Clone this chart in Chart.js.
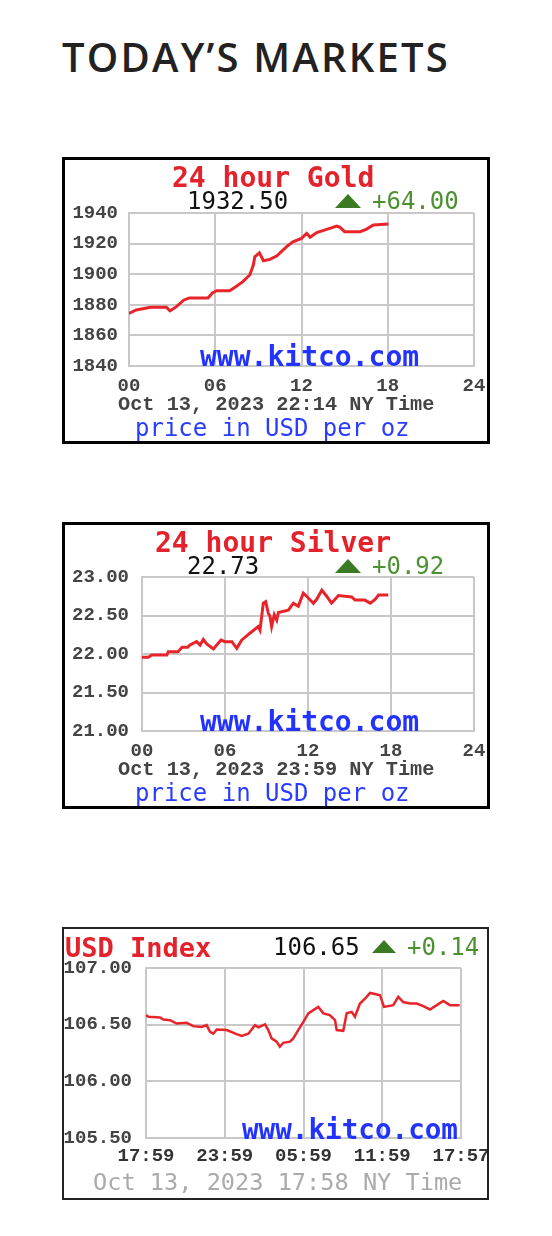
<!DOCTYPE html>
<html>
<head>
<meta charset="utf-8">
<script src="https://cdn.jsdelivr.net/npm/chart.js@4.4.0/dist/chart.umd.min.js"></script>
<style>
  body { margin: 0; background: #fff; width: 552px; height: 1236px; position: relative; overflow: hidden; }
  .t { position: absolute; white-space: pre; line-height: 1; transform: translateY(-50%); }
  .mono { font-family: "DejaVu Sans Mono", monospace; }
  .bmono { font-family: "Liberation Mono", monospace; font-weight: bold; }
  .box { position: absolute; box-sizing: border-box; background: #fff; }
  .tri { position: absolute; width: 0; height: 0; }
  canvas { position: absolute; }
  h1 { position: absolute; margin: 0; left: 62px; top: 57px; transform: translateY(-50%); line-height: 1;
       font-family: "Open Sans", sans-serif; font-weight: 600; font-size: 40px; letter-spacing: 2.2px; color: #222; }
</style>
</head>
<body>
<h1>TODAY’S MARKETS</h1>

<div class="box" style="left:62px;top:157px;width:428px;height:287px;border:3px solid #000"></div>
<canvas id="gold" width="422" height="281" style="left:65px;top:160px;width:422px;height:281px"></canvas>
<div class="t mono" style="left:172px;top:178px;font-size:28px;font-weight:bold;color:#e3222b">24 hour Gold</div>
<div class="t mono" style="left:187px;top:201px;font-size:24px;color:#111">1932.50</div>
<div class="tri" style="left:335px;top:194px;border-left:13.5px solid transparent;border-right:13.5px solid transparent;border-bottom:14px solid #3a7a22"></div>
<div class="t mono" style="left:372px;top:201px;font-size:24px;color:#4b9130">+64.00</div>
<div class="t mono" style="left:200px;top:357px;font-size:28px;font-weight:bold;color:#2233ff">www.kitco.com</div>
<div class="t bmono" style="left:118px;top:405px;font-size:20.3px;color:#444">Oct 13, 2023 22:14 NY Time</div>
<div class="t mono" style="left:135px;top:428px;font-size:24px;color:#2a3cff">price in USD per oz</div>

<div class="box" style="left:62px;top:522px;width:428px;height:287px;border:3px solid #000"></div>
<canvas id="silver" width="422" height="281" style="left:65px;top:525px;width:422px;height:281px"></canvas>
<div class="t mono" style="left:155px;top:543px;font-size:28px;font-weight:bold;color:#e3222b">24 hour Silver</div>
<div class="t mono" style="left:187px;top:566px;font-size:24px;color:#111">22.73</div>
<div class="tri" style="left:335px;top:559px;border-left:13.5px solid transparent;border-right:13.5px solid transparent;border-bottom:14px solid #3a7a22"></div>
<div class="t mono" style="left:372px;top:566px;font-size:24px;color:#4b9130">+0.92</div>
<div class="t mono" style="left:200px;top:722px;font-size:28px;font-weight:bold;color:#2233ff">www.kitco.com</div>
<div class="t bmono" style="left:118px;top:770px;font-size:20.3px;color:#444">Oct 13, 2023 23:59 NY Time</div>
<div class="t mono" style="left:135px;top:793px;font-size:24px;color:#2a3cff">price in USD per oz</div>

<div class="box" style="left:62px;top:927px;width:427px;height:273px;border:2px solid #222"></div>
<canvas id="usd" width="423" height="269" style="left:64px;top:929px;width:423px;height:269px"></canvas>
<div class="t mono" style="left:65px;top:947px;font-size:27px;font-weight:bold;color:#e3222b">USD Index</div>
<div class="t mono" style="left:273px;top:947px;font-size:24px;color:#111">106.65</div>
<div class="tri" style="left:372px;top:940px;border-left:12.5px solid transparent;border-right:12.5px solid transparent;border-bottom:13px solid #3a7a22"></div>
<div class="t mono" style="left:407px;top:947px;font-size:24px;color:#4b9130">+0.14</div>
<div class="t mono" style="left:242px;top:1130px;font-size:27.6px;font-weight:bold;color:#2233ff">www.kitco.com</div>
<div class="t mono" style="left:93px;top:1183px;font-size:23.6px;color:#aaa">Oct 13, 2023 17:58 NY Time</div>

<script>
// gold, hours since midnight
var goldHours  = [0, 0.5, 1.5, 2.6, 2.85, 3.3, 3.8, 4.2, 5.5, 5.8, 6.1, 7.0, 7.4, 7.9, 8.4, 8.65, 8.75, 9.07, 9.35, 9.8, 10.27, 10.97, 11.4, 12.0, 12.36, 12.6, 13.06, 13.75, 14.45, 14.68, 15.0, 16.07, 16.5, 17.0, 18.04];
var goldPrices = [1874.4, 1876.6, 1878.4, 1878.4, 1876, 1878.8, 1883, 1884.5, 1884.5, 1887.7, 1889.2, 1889.2, 1891.6, 1895, 1899.5, 1906, 1911.4, 1914, 1908.8, 1909.7, 1911.9, 1918, 1921.2, 1923.4, 1926.7, 1924.1, 1927.2, 1929.3, 1931.5, 1930.6, 1927.8, 1927.8, 1929.3, 1932.2, 1932.8];
var goldXLabels = ['00', '06', '12', '18', '24'];

var silverHours  = [0, 0.46, 0.7, 1.8, 1.9, 2.6, 2.9, 3.3, 3.47, 3.95, 4.2, 4.43, 4.68, 5.16, 5.71, 6.0, 6.5, 6.85, 7.2, 7.8, 8.4, 8.53, 8.77, 8.94, 9.13, 9.25, 9.37, 9.56, 9.74, 9.86, 10.58, 10.94, 11.3, 11.66, 11.9, 12.39, 12.63, 13.0, 13.35, 13.7, 14.2, 15.16, 15.4, 16.1, 16.5, 16.85, 17.1, 17.8];
var silverPrices = [21.957, 21.957, 21.987, 21.987, 22.03, 22.03, 22.087, 22.087, 22.117, 22.16, 22.117, 22.19, 22.13, 22.065, 22.18, 22.16, 22.16, 22.074, 22.18, 22.27, 22.356, 22.31, 22.66, 22.68, 22.53, 22.49, 22.356, 22.51, 22.44, 22.54, 22.57, 22.66, 22.62, 22.79, 22.75, 22.66, 22.71, 22.83, 22.75, 22.66, 22.76, 22.74, 22.70, 22.70, 22.66, 22.71, 22.765, 22.765];
var silverXLabels = ['00', '06', '12', '18', '24'];

// usd index, hours after 17:59 previous day
var usdHours  = [0, 0.18, 1.07, 1.32, 1.83, 2.34, 3.1, 3.6, 4.24, 4.62, 4.88, 5.13, 5.39, 6.15, 6.9, 7.29, 7.8, 8.3, 8.56, 9.07, 9.32, 9.57, 9.95, 10.2, 10.46, 10.97, 11.22, 11.6, 11.99, 12.37, 12.75, 13.13, 13.51, 14.0, 14.4, 14.53, 15.03, 15.29, 15.67, 15.92, 16.3, 16.69, 17.07, 17.45, 17.83, 18.13, 18.84, 19.22, 19.6, 20.11, 20.63, 21.13, 21.64, 22.15, 22.65, 23.16, 23.9];
var usdValues = [106.584, 106.57, 106.564, 106.546, 106.54, 106.51, 106.516, 106.487, 106.48, 106.496, 106.437, 106.42, 106.458, 106.452, 106.417, 106.4, 106.42, 106.496, 106.476, 106.502, 106.452, 106.379, 106.35, 106.305, 106.34, 106.35, 106.379, 106.452, 106.525, 106.6, 106.628, 106.657, 106.6, 106.584, 106.54, 106.452, 106.446, 106.6, 106.613, 106.57, 106.687, 106.73, 106.78, 106.77, 106.76, 106.657, 106.672, 106.745, 106.70, 106.687, 106.687, 106.663, 106.634, 106.672, 106.71, 106.672, 106.672];
var usdXLabels = ['17:59', '23:59', '05:59', '11:59', '17:57'];

var gridColor = '#c8c8c8';
var tickFont = { family: 'Liberation Mono', weight: 'bold', size: 19 };

function drawChart(id, hours, values, yMin, yMax, yStep, yDigits, xLabels, g) {
    new Chart(document.getElementById(id), {
        type: 'line',
        data: {
            datasets: [{
                data: hours.map(function (h, i) { return { x: h, y: values[i] }; }),
                borderColor: '#e8242b',
                borderWidth: g.lw,
                pointRadius: 0,
                tension: 0,
                fill: false
            }]
        },
        options: {
            responsive: false,
            animation: false,
            layout: { padding: { left: 0, top: g.top, right: g.right, bottom: 0 } },
            plugins: { legend: { display: false }, tooltip: { enabled: false } },
            scales: {
                x: {
                    type: 'linear', min: 0, max: 24,
                    grid: { color: gridColor, lineWidth: 2, drawTicks: false },
                    border: { color: gridColor, width: 2 },
                    ticks: {
                        stepSize: 6, autoSkip: false, maxRotation: 0, padding: g.xpad,
                        color: g.xcolor, font: tickFont,
                        callback: function (v, i) { return xLabels[i]; }
                    },
                    afterFit: function (s) { s.height = g.xh; s.paddingLeft = 0; s.paddingRight = 0; }
                },
                y: {
                    min: yMin, max: yMax,
                    grid: { color: gridColor, lineWidth: 2, drawTicks: false },
                    border: { color: gridColor, width: 2 },
                    ticks: {
                        stepSize: yStep, padding: g.ypad, color: '#444', font: tickFont,
                        callback: function (v) { return v.toFixed(yDigits); }
                    },
                    afterFit: function (s) { s.width = g.yw; s.paddingTop = 0; s.paddingBottom = 0; }
                }
            }
        }
    });
}

drawChart('gold', goldHours, goldPrices, 1840, 1940, 20, 0, goldXLabels,
    { lw: 3, top: 53, right: 13, xh: 75, yw: 64, xpad: 9, ypad: 11, xcolor: '#444' });
drawChart('silver', silverHours, silverPrices, 21, 23, 0.5, 2, silverXLabels,
    { lw: 3, top: 52, right: 13, xh: 75, yw: 77, xpad: 9, ypad: 13, xcolor: '#444' });
drawChart('usd', usdHours, usdValues, 105.5, 107, 0.5, 2, usdXLabels,
    { lw: 2.5, top: 39, right: 26, xh: 60, yw: 82, xpad: 7, ypad: 14, xcolor: '#333' });
</script>
</body>
</html>
